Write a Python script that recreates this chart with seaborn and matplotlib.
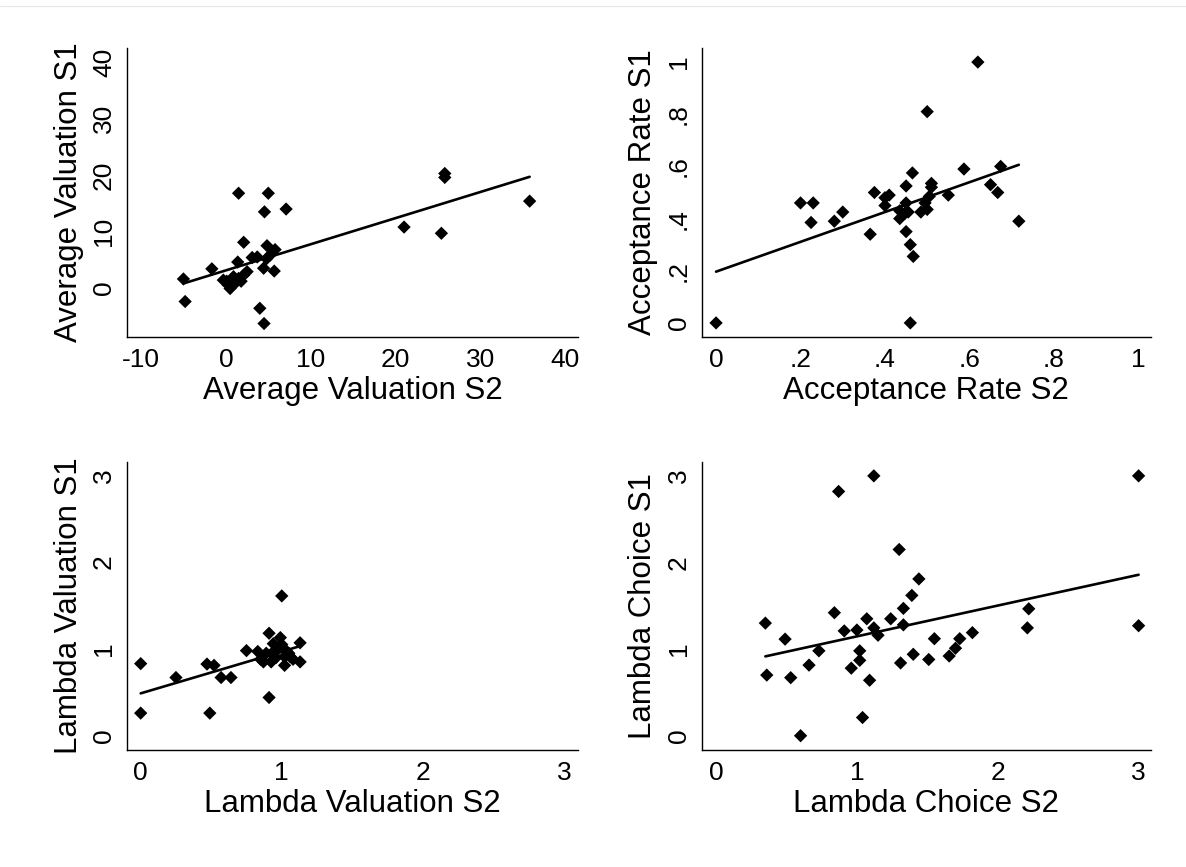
import matplotlib
matplotlib.use("Agg")
import matplotlib.pyplot as plt
import seaborn as sns
import pandas as pd
from matplotlib.lines import Line2D

# ---------------- data ----------------
avg_val_s2 = [-5.0, -4.8, -1.65, 1.5, 5.0, 4.55, 7.1, 2.1, 21.0, 25.4, 25.8, 25.8, 35.8,
              4.0, 4.5, 1.4, 3.1, 3.7, 4.85, 5.8, 5.2, 4.45, 5.7, 4.8, 2.5, 2.1, 1.5,
              0.5, -0.3, 0.3, 0.9, 0.1, 1.2, 1.8]
avg_val_s1 = [1.6, -2.4, 3.4, 16.8, 16.8, 13.5, 14.0, 8.1, 10.8, 9.7, 20.3, 19.6, 15.4,
              -3.6, -6.3, 4.6, 5.4, 5.5, 7.5, 6.8, 5.8, 3.5, 3.0, 5.2, 2.9, 2.3, 1.7,
              -0.1, 1.4, 0.5, 2.0, 1.2, 1.0, 1.2]

acc_s2 = [0.0, 0.46, 0.62, 0.50, 0.20, 0.23, 0.225, 0.28, 0.30, 0.365, 0.375, 0.40,
          0.41, 0.40, 0.45, 0.465, 0.45, 0.435, 0.455, 0.435, 0.447, 0.45, 0.46, 0.467,
          0.51, 0.51, 0.505, 0.495, 0.50, 0.485, 0.55, 0.587, 0.65, 0.667, 0.674, 0.717]
acc_s1 = [0.0, 0.0, 1.0, 0.81, 0.46, 0.46, 0.385, 0.39, 0.425, 0.34, 0.50, 0.48,
          0.49, 0.45, 0.525, 0.575, 0.46, 0.43, 0.425, 0.40, 0.42, 0.35, 0.30, 0.255,
          0.535, 0.52, 0.485, 0.46, 0.435, 0.425, 0.49, 0.59, 0.53, 0.50, 0.60, 0.39]

lam_val_s2 = [0.0, 0.0, 0.25, 0.47, 0.52, 0.49, 0.57, 0.64, 0.75, 0.91, 1.0, 0.91, 0.99,
              1.13, 1.13, 1.02, 0.83, 0.87, 0.925, 0.96, 1.03, 1.06, 0.94, 0.89, 0.99,
              0.96, 1.02, 0.85, 0.93, 1.0, 1.05, 0.97, 1.08]
lam_val_s1 = [0.83, 0.26, 0.67, 0.825, 0.81, 0.26, 0.67, 0.67, 0.98, 0.44, 1.61, 1.18, 1.13,
              1.07, 0.85, 0.81, 0.97, 0.85, 0.85, 0.98, 0.98, 0.91, 1.06, 0.95, 1.02,
              0.90, 0.91, 0.88, 0.95, 1.05, 0.95, 1.00, 0.88]

lam_ch_s2 = [0.35, 0.36, 0.49, 0.53, 0.60, 0.66, 0.73, 0.84, 0.87, 0.91, 0.96, 1.0, 1.02,
             1.02, 1.04, 1.07, 1.09, 1.12, 1.12, 1.15, 1.24, 1.30, 1.31, 1.33, 1.33, 1.39,
             1.40, 1.44, 1.51, 1.55, 1.655, 1.70, 1.73, 1.82, 2.22, 2.21, 3.0, 3.0]
lam_ch_s1 = [1.30, 0.70, 1.115, 0.67, 0.0, 0.815, 0.98, 1.42, 2.82, 1.21, 0.78, 1.22, 0.98,
             0.87, 0.21, 1.35, 0.64, 3.0, 1.245, 1.16, 1.35, 2.15, 0.84, 1.47, 1.28, 1.62,
             0.94, 1.81, 0.88, 1.12, 0.92, 1.01, 1.12, 1.19, 1.465, 1.245, 3.0, 1.27]

avg_ticks = [-10, 0, 10, 20, 30, 40]
avg_yticks = [0, 10, 20, 30, 40]
acc_ticks = [0, 0.2, 0.4, 0.6, 0.8, 1.0]
acc_labels = ["0", ".2", ".4", ".6", ".8", "1"]
lam_ticks = [0, 1, 2, 3]

# ---------------- style ----------------
sns.set_theme(style="white")
plt.rcParams["font.family"] = ["Liberation Sans", "DejaVu Sans"]

W, H = 1186, 867
fig = plt.figure(figsize=(W / 100, H / 100), dpi=100)
fig.patch.set_facecolor("white")


def add_ax(l, t, r, b):
    return fig.add_axes([l / W, 1 - b / H, (r - l) / W, (b - t) / H])


panels = [
    dict(box=(127, 48, 578, 337), x=avg_val_s2, y=avg_val_s1,
         xlab="Average Valuation S2", ylab="Average Valuation S1",
         xlim=(-11.65, 41.5), ylim=(-8.69, 42.55),
         xt=avg_ticks, xtl=[str(v) for v in avg_ticks],
         yt=avg_yticks, ytl=[str(v) for v in avg_yticks]),
    dict(box=(701.7, 48, 1151, 337), x=acc_s2, y=acc_s1,
         xlab="Acceptance Rate S2", ylab="Acceptance Rate S1",
         xlim=(-0.034, 1.03), ylim=(-0.054, 1.054),
         xt=acc_ticks, xtl=acc_labels, yt=acc_ticks, ytl=acc_labels),
    dict(box=(127, 462, 578, 750), x=lam_val_s2, y=lam_val_s1,
         xlab="Lambda Valuation S2", ylab="Lambda Valuation S1",
         xlim=(-0.097, 3.10), ylim=(-0.165, 3.153),
         xt=lam_ticks, xtl=[str(v) for v in lam_ticks],
         yt=lam_ticks, ytl=[str(v) for v in lam_ticks]),
    dict(box=(701.7, 462, 1151, 750), x=lam_ch_s2, y=lam_ch_s1,
         xlab="Lambda Choice S2", ylab="Lambda Choice S1",
         xlim=(-0.102, 3.088), ylim=(-0.165, 3.16),
         xt=lam_ticks, xtl=[str(v) for v in lam_ticks],
         yt=lam_ticks, ytl=[str(v) for v in lam_ticks]),
]

for p in panels:
    ax = add_ax(*p["box"])
    df = pd.DataFrame({"s2": p["x"], "s1": p["y"]})
    sns.regplot(data=df, x="s2", y="s1", ax=ax, ci=None, marker="D",
                scatter_kws=dict(s=46, color="black", edgecolor="none", linewidths=0,
                                 alpha=1.0),
                line_kws=dict(color="black", lw=1.9), truncate=True)
    ax.set_xlim(*p["xlim"])
    ax.set_ylim(*p["ylim"])
    ax.set_xticks(p["xt"])
    ax.set_xticklabels(p["xtl"])
    ax.set_yticks(p["yt"])
    ax.set_yticklabels(p["ytl"])
    for s in ["top", "right"]:
        ax.spines[s].set_visible(False)
    for s in ["left", "bottom"]:
        ax.spines[s].set_color("black")
        ax.spines[s].set_linewidth(1.0)
    ax.tick_params(axis="both", direction="out", length=6, width=1.0, color="black",
                   labelsize=19, labelcolor="black", pad=2)
    ax.tick_params(axis="y", labelrotation=90)
    for lbl in ax.get_yticklabels():
        lbl.set_va("center")
    ax.set_xlabel(p["xlab"], fontsize=22.5, color="black", labelpad=3)
    ax.set_ylabel(p["ylab"], fontsize=22.5, color="black", labelpad=6)
    ax.grid(False)
    ax.set_facecolor("white")

fig.add_artist(Line2D([0, 1], [1 - 6 / H, 1 - 6 / H], color="#e6e6e6", lw=0.8))

fig.savefig("out.png", dpi=100, facecolor="white")
